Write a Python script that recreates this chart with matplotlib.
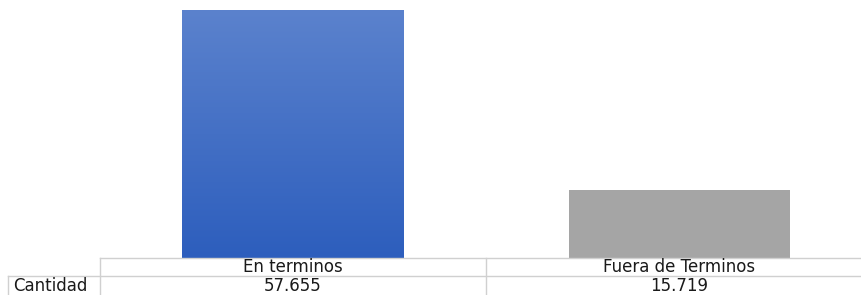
import matplotlib
matplotlib.use("Agg")
import matplotlib.pyplot as plt
import numpy as np
from matplotlib.colors import LinearSegmentedColormap
from matplotlib.lines import Line2D

categories = ["En terminos", "Fuera de Terminos"]
values = [57.655, 15.719]
value_labels = ["57.655", "15.719"]
row_label = "Cantidad"

plt.rcParams['font.family'] = ['DejaVu Sans']

W, H = 862, 295
fig = plt.figure(figsize=(W/100, H/100), dpi=100)
ax = fig.add_axes([100/W, (H-258)/H, 762/W, 248/H])
ax.set_xlim(-0.4994, 1.4721)
ax.set_ylim(0, max(values))
ax.axis('off')

bw = 0.574
bars = ax.bar(range(len(values)), values, width=bw, color=['#4169c4', '#a5a5a5'], zorder=2)

# gradient for first bar
cmap = LinearSegmentedColormap.from_list('b', ['#2d5ebd', '#5b82cd'])
b = bars[0]
x0, w_, h_ = b.get_x(), b.get_width(), b.get_height()
grad = np.linspace(0, 1, 256).reshape(-1, 1)
im = ax.imshow(grad, extent=[x0, x0 + w_, 0, h_], origin='lower', aspect='auto', cmap=cmap, zorder=3)
im.set_clip_path(b)

# table
def hline(y, x1, x2):
    fig.add_artist(Line2D([x1/W, x2/W], [1 - y/H, 1 - y/H], color='#d0d0d0', lw=1))
def vline(x, y1, y2):
    fig.add_artist(Line2D([x/W, x/W], [1 - y1/H, 1 - y2/H], color='#d0d0d0', lw=1))

hline(258, 100, 862)
hline(276, 8, 862)
vline(100, 258, 295)
vline(486, 258, 295)
vline(8, 276, 295)

centers = [293, 679]
fs = 12
for c, cat, vl in zip(centers, categories, value_labels):
    fig.text(c/W, 1 - 267.5/H, cat, ha='center', va='center', fontsize=fs, color='#1a1a1a')
    fig.text(c/W, 1 - 286/H, vl, ha='center', va='center', fontsize=fs, color='#1a1a1a')
fig.text(13/W, 1 - 286/H, row_label, ha='left', va='center', fontsize=fs, color='#1a1a1a')

fig.savefig('out.png', dpi=100)
